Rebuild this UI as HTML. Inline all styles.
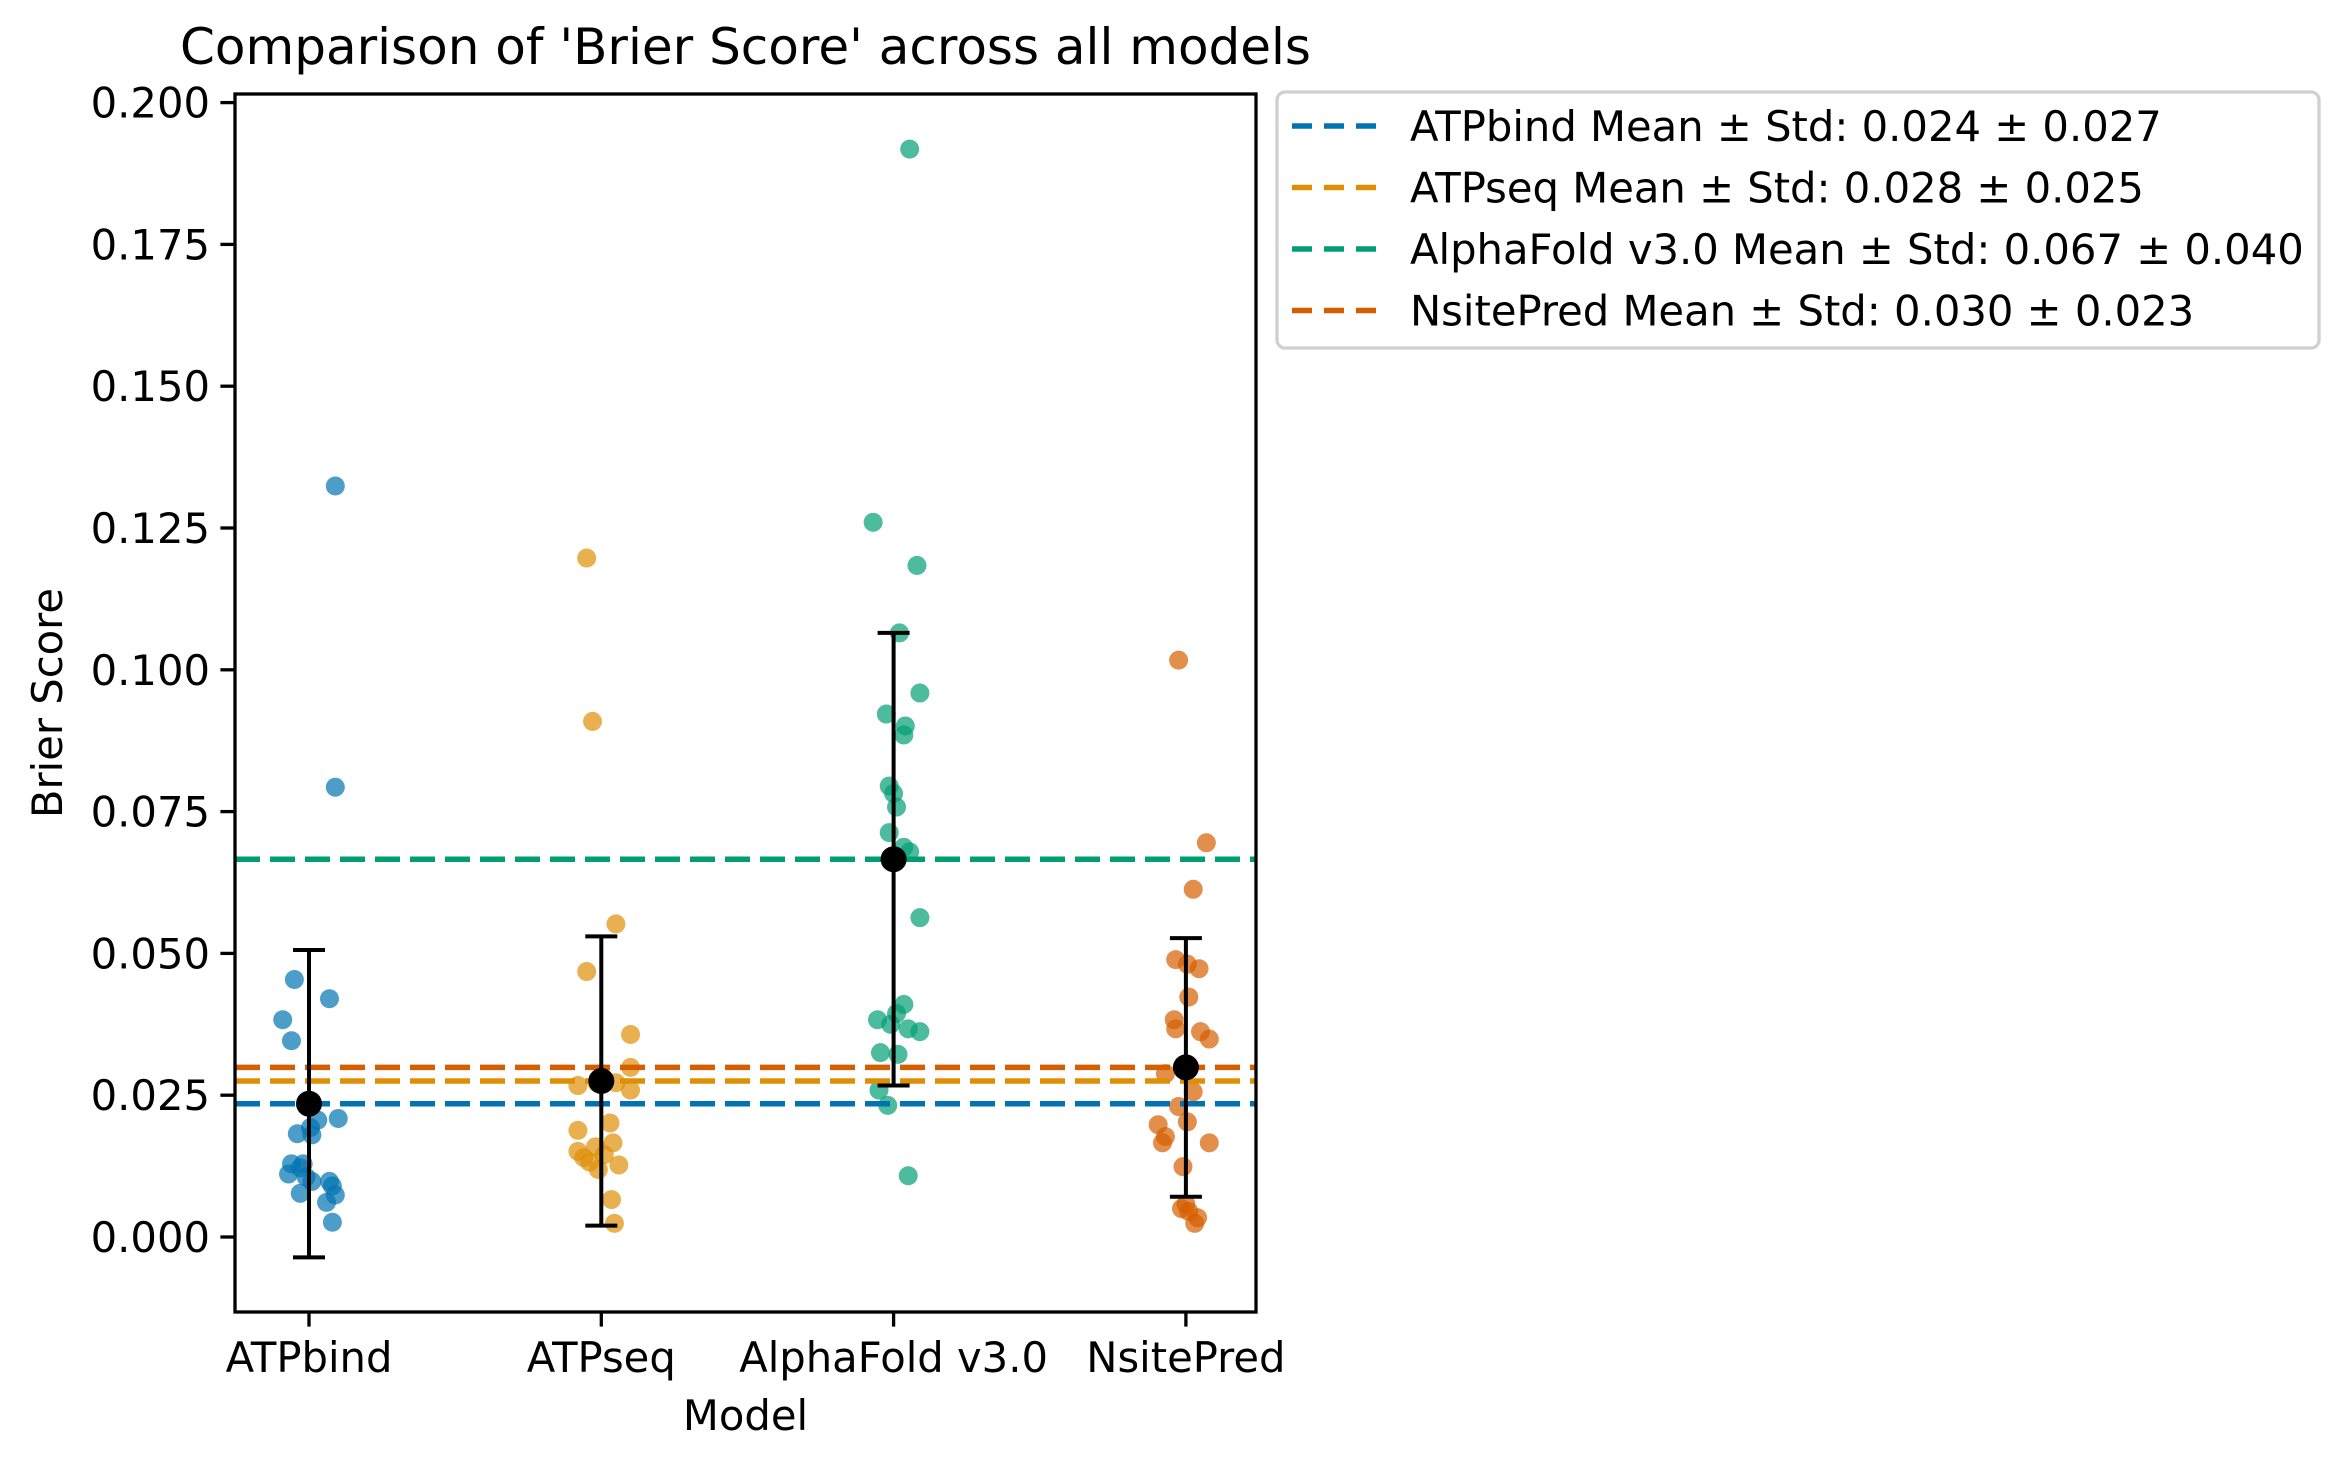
<!DOCTYPE html>
<html><head><meta charset="utf-8"><style>
html,body{margin:0;padding:0;background:#fff}
svg{display:block}
text{font-family:"DejaVu Sans","Liberation Sans",sans-serif;fill:#000}
</style></head><body>
<svg id="chart" width="2348" height="1468" viewBox="0 0 2348 1468" xmlns="http://www.w3.org/2000/svg">
<rect width="2348" height="1468" fill="#fff"/>
<g id="grid"></g>
<g id="marks"></g>
<g id="axes"></g>
<g id="legend"></g>
</svg>
<script>
const categories = ["ATPbind","ATPseq","AlphaFold v3.0","NsitePred"];
const colors = ["#0173b2","#de8f05","#029e73","#d55e00"];
const means = [0.0235,0.0275,0.0666,0.0299];
const stds = [0.0271,0.0255,0.0399,0.0228];
const meanLabels = ["0.024 ± 0.027","0.028 ± 0.025","0.067 ± 0.040","0.030 ± 0.023"];
const yTicks = [0.000,0.025,0.050,0.075,0.100,0.125,0.150,0.175,0.200];
// each point: [jitter (category units), value]
const atpbindPts = [[0.09,0.1324],[0.09,0.0793],[-0.05,0.0454],[0.07,0.0420],[-0.09,0.0383],[-0.06,0.0346],[0.10,0.0209],[0.03,0.0206],[0.005,0.0193],[-0.04,0.0182],[0.01,0.0180],[-0.06,0.0129],[-0.02,0.0129],[-0.03,0.0122],[-0.07,0.0111],[-0.01,0.0106],[0.01,0.0098],[0.07,0.0098],[0.08,0.0090],[-0.03,0.0077],[0.09,0.0074],[0.06,0.0061],[0.08,0.0026]];
const atpseqPts = [[-0.05,0.1197],[-0.03,0.0909],[0.05,0.0552],[-0.05,0.0468],[0.10,0.0357],[0.10,0.0299],[-0.08,0.0267],[-0.015,0.0272],[0.05,0.0272],[0.10,0.0259],[0.03,0.0201],[-0.08,0.0188],[0.04,0.0166],[-0.08,0.0151],[-0.02,0.0159],[-0.06,0.0140],[0.01,0.0145],[-0.04,0.0132],[0.06,0.0127],[-0.01,0.0119],[0.035,0.0066],[0.045,0.0024]];
const alphafoldPts = [[0.055,0.1918],[-0.07,0.1260],[0.08,0.1184],[0.02,0.1065],[0.09,0.0959],[-0.025,0.0922],[0.04,0.0901],[0.035,0.0885],[-0.015,0.0795],[0.0,0.0782],[0.01,0.0758],[-0.015,0.0713],[0.035,0.0687],[0.055,0.0679],[0.09,0.0563],[0.035,0.0410],[0.01,0.0394],[-0.055,0.0383],[-0.01,0.0375],[0.05,0.0367],[0.09,0.0362],[-0.045,0.0325],[0.015,0.0322],[-0.05,0.0259],[-0.02,0.0232],[0.05,0.0108]];
const nsitepredPts = [[-0.025,0.1017],[0.07,0.0695],[0.025,0.0613],[-0.035,0.0489],[0.005,0.0481],[0.045,0.0473],[0.01,0.0423],[-0.04,0.0383],[-0.035,0.0367],[0.05,0.0362],[0.08,0.0349],[-0.07,0.0288],[0.025,0.0256],[-0.025,0.0230],[0.005,0.0203],[-0.095,0.0198],[-0.07,0.0177],[-0.08,0.0166],[0.08,0.0166],[-0.01,0.0124],[0.0,0.0058],[0.01,0.0045],[0.04,0.0034],[0.03,0.0024],[-0.015,0.0050]];
const allPts = [atpbindPts, atpseqPts, alphafoldPts, nsitepredPts];

const NS = "http://www.w3.org/2000/svg";
const L = 235, R = 1256, T = 94, B = 1312;
function xs(c){ return 309 + c * 292.3; }
function ys(v){ return 1237 - v * 5672; }
function mk(tag, attrs, parent, txt){
  const e = document.createElementNS(NS, tag);
  for (const k in attrs) e.setAttribute(k, attrs[k]);
  if (txt !== undefined) e.textContent = txt;
  parent.appendChild(e);
  return e;
}
const gGrid = document.getElementById('grid');
const gMarks = document.getElementById('marks');
const gAxes = document.getElementById('axes');
const gLeg = document.getElementById('legend');

allPts.forEach((pts, ci) => {
  pts.forEach((p, i) => {
    const c = mk('circle', {cx: xs(ci + p[0]), cy: ys(p[1]), r: 9.5, fill: colors[ci], 'fill-opacity': 0.7}, gMarks);
    
    
  });
});
means.forEach((m, ci) => {
  const l = mk('line', {x1: L, x2: R, y1: ys(m), y2: ys(m), stroke: colors[ci], 'stroke-width': 5.5, 'stroke-dasharray': '25 10'}, gMarks);
  
  
});
means.forEach((m, ci) => {
  const x = xs(ci), y1 = ys(m - stds[ci]), y2 = ys(m + stds[ci]);
  const g = mk('g', {}, gMarks);
  
  
  mk('line', {x1: x, x2: x, y1: y1, y2: y2, stroke: '#000', 'stroke-width': 4}, g);
  mk('line', {x1: x-16, x2: x+16, y1: y1, y2: y1, stroke: '#000', 'stroke-width': 4}, g);
  mk('line', {x1: x-16, x2: x+16, y1: y2, y2: y2, stroke: '#000', 'stroke-width': 4}, g);
  const d = mk('circle', {cx: x, cy: ys(m), r: 13, fill: '#000'}, g);
  
  
});
const frame = mk('rect', {x: L, y: T, width: R-L, height: B-T, fill: 'none', stroke: '#000', 'stroke-width': 3.3}, gAxes);


yTicks.forEach(v => {
  const y = ys(v);
  mk('line', {x1: L-14.6, x2: L, y1: y, y2: y, stroke: '#000', 'stroke-width': 3.3}, gAxes);
  const t = mk('text', {x: L-25, y: y+15, 'text-anchor': 'end', 'font-size': 41.7}, gAxes, v.toFixed(3));
  
  
});
categories.forEach((c, ci) => {
  const x = xs(ci);
  mk('line', {x1: x, x2: x, y1: B, y2: B+14.6, stroke: '#000', 'stroke-width': 3.3}, gAxes);
  const t = mk('text', {x: x, y: 1372, 'text-anchor': 'middle', 'font-size': 41.7}, gAxes, c);
  
  
});
const xl = mk('text', {x: (L+R)/2, y: 1430, 'text-anchor': 'middle', 'font-size': 41.7}, gAxes, 'Model');


const yl = mk('text', {x: 0, y: 0, 'text-anchor': 'middle', 'font-size': 41.7, transform: 'translate(62,' + ((T+B)/2) + ') rotate(-90)'}, gAxes, 'Brier Score');


const ti = mk('text', {x: (L+R)/2, y: 64, 'text-anchor': 'middle', 'font-size': 50}, gAxes, "Comparison of 'Brier Score' across all models");



const box = mk('rect', {x: 1277, y: 92, width: 1042, height: 256, rx: 8, fill: '#fff', 'fill-opacity': 0.8, stroke: '#d0d0d0', 'stroke-width': 3.3}, gLeg);


categories.forEach((c, ci) => {
  const y = 126 + ci * 61.5;
  const g = mk('g', {}, gLeg);
  
  
  mk('line', {x1: 1292, x2: 1376, y1: y, y2: y, stroke: colors[ci], 'stroke-width': 5.5, 'stroke-dasharray': '20 12'}, g);
  mk('text', {x: 1410, y: y+15, 'font-size': 41.7}, g, c + ' Mean ± Std: ' + meanLabels[ci]);
});
</script>
</body></html>
